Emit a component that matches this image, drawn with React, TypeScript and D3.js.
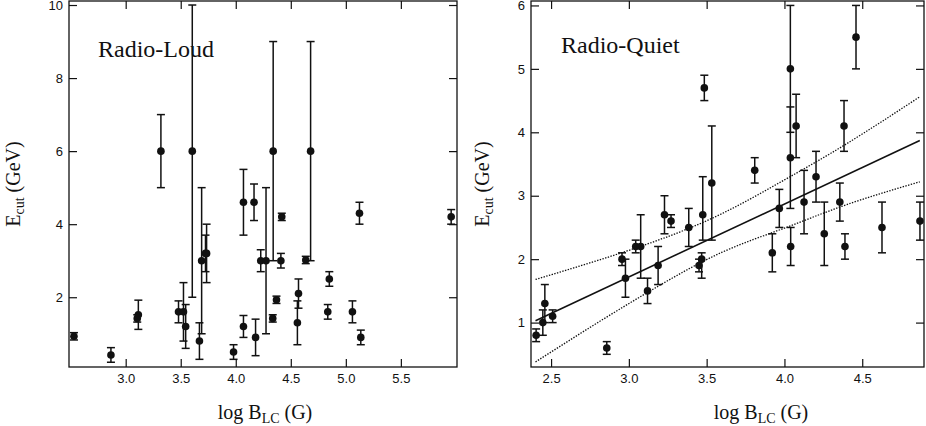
import { useEffect, useRef } from "react";
import * as d3 from "d3";

// Radio-loud sample: log B_LC (G), E_cut (GeV) and error bar ends
const loudLogB = [
  2.53, 2.866, 3.115, 3.105, 3.32, 3.48, 3.525, 3.545, 3.605, 3.67, 3.69, 3.735,
  3.725, 3.98, 4.07, 4.07, 4.166, 4.18, 4.227, 4.275, 4.34, 4.336, 4.37, 4.41,
  4.418, 4.56, 4.57, 4.636, 4.68, 4.836, 4.85, 5.06, 5.124, 5.136, 5.957,
];
const loudEcut = [
  0.93, 0.42, 1.52, 1.42, 6.0, 1.6, 1.6, 1.2, 6.0, 0.8, 3.0, 3.2,
  3.2, 0.5, 4.6, 1.2, 4.6, 0.9, 3.0, 3.0, 6.0, 1.42, 1.93, 3.0,
  4.2, 1.3, 2.1, 3.02, 6.0, 1.6, 2.5, 1.6, 4.3, 0.9, 4.2,
];
const loudLow = [
  0.83, 0.22, 1.12, 1.32, 5.0, 1.3, 0.8, 0.6, 2.0, 0.3, 1.0, 2.4,
  2.7, 0.3, 3.7, 0.9, 4.1, 0.4, 2.7, 1.0, 3.0, 1.32, 1.83, 2.8,
  4.1, 0.7, 1.7, 2.92, 3.0, 1.4, 2.3, 1.3, 4.0, 0.7, 4.0,
];
const loudHigh = [
  1.03, 0.62, 1.92, 1.52, 7.0, 1.9, 2.4, 1.8, 10.0, 1.3, 5.0, 4.0,
  3.7, 0.7, 5.5, 1.5, 5.1, 1.4, 3.3, 5.0, 9.0, 1.52, 2.03, 3.2,
  4.3, 1.9, 2.5, 3.12, 9.0, 1.8, 2.7, 1.9, 4.6, 1.1, 4.4,
];

// Radio-quiet sample
const quietLogB = [
  2.404, 2.447, 2.46, 2.51, 2.858, 2.956, 2.978, 3.044, 3.076, 3.12, 3.188, 3.229,
  3.271, 3.385, 3.451, 3.468, 3.475, 3.485, 3.533, 3.809, 3.922, 3.967, 4.038, 4.038,
  4.04, 4.075, 4.126, 4.203, 4.256, 4.356, 4.383, 4.389, 4.46, 4.627, 4.871,
];
const quietEcut = [
  0.8, 1.0, 1.3, 1.1, 0.6, 2.0, 1.7, 2.2, 2.2, 1.5, 1.9, 2.7,
  2.6, 2.5, 1.9, 2.0, 2.7, 4.7, 3.2, 3.4, 2.1, 2.8, 5.0, 3.6,
  2.2, 4.1, 2.9, 3.3, 2.4, 2.9, 4.1, 2.2, 5.5, 2.5, 2.6,
];
const quietLow = [
  0.7, 0.8, 1.0, 1.0, 0.5, 1.9, 1.4, 2.1, 1.7, 1.3, 1.6, 2.4,
  2.5, 2.2, 1.8, 1.7, 2.3, 4.5, 2.3, 3.2, 1.8, 2.5, 4.0, 2.8,
  1.9, 3.6, 2.4, 2.9, 1.9, 2.6, 3.7, 2.0, 5.0, 2.1, 2.3,
];
const quietHigh = [
  0.9, 1.2, 1.6, 1.2, 0.7, 2.1, 2.0, 2.3, 2.7, 1.7, 2.2, 3.0,
  2.7, 2.8, 2.0, 2.1, 3.3, 4.9, 4.1, 3.6, 2.4, 3.1, 6.0, 4.4,
  2.5, 4.6, 3.4, 3.7, 2.9, 3.2, 4.5, 2.4, 6.0, 2.9, 2.9,
];

// linear fit to the radio-quiet sample and its confidence band
const fitLogB = [2.4, 4.87];
const fitEcut = [1.03, 3.87];
const bandLogB = [2.4, 2.8, 3.2, 3.6, 4.0, 4.4, 4.87];
const bandUpper = [1.68, 1.98, 2.31, 2.72, 3.25, 3.82, 4.56];
const bandLower = [0.38, 1.0, 1.59, 2.11, 2.49, 2.86, 3.22];

const loudXTicks = [3.0, 3.5, 4.0, 4.5, 5.0, 5.5];
const loudYTicks = [2, 4, 6, 8, 10];
const quietXTicks = [2.5, 3.0, 3.5, 4.0, 4.5];
const quietYTicks = [1, 2, 3, 4, 5, 6];

const INK = "#111";
const SANS = "'Liberation Sans', Arial, sans-serif";
const SERIF = "'Liberation Serif', 'Times New Roman', serif";

interface PanelOpts {
  left: number;
  right: number;
  top: number;
  bottom: number;
  xDomain: [number, number];
  yDomain: [number, number];
  xTicks: number[];
  yTicks: number[];
  xs: number[];
  ys: number[];
  lo: number[];
  hi: number[];
  label: string;
  labelX: number;
  labelY: number;
  xTitleX: number;
  yTitleX: number;
}

function drawPanel(svg: d3.Selection<SVGSVGElement, unknown, null, undefined>, p: PanelOpts) {
  const x = d3.scaleLinear().domain(p.xDomain).range([p.left, p.right]);
  const y = d3.scaleLinear().domain(p.yDomain).range([p.bottom, p.top]);
  const g = svg.append("g");

  const styleAxis = (a: d3.Selection<SVGGElement, unknown, null, undefined>) => {
    a.select(".domain").remove();
    a.attr("font-family", SANS).attr("font-size", 13);
    a.selectAll("line").attr("stroke", INK).attr("stroke-width", 1.2);
    a.selectAll("text").attr("fill", INK);
  };

  // bottom and top (ticks inside)
  g.append("g")
    .attr("transform", `translate(0,${p.bottom})`)
    .call(d3.axisBottom(x).tickValues(p.xTicks).tickFormat(d3.format(".1f")).tickSizeInner(-8).tickSizeOuter(0).tickPadding(7))
    .call(styleAxis);
  g.append("g")
    .attr("transform", `translate(0,${p.top})`)
    .call(d3.axisTop(x).tickValues(p.xTicks).tickFormat(() => "").tickSizeInner(-8).tickSizeOuter(0))
    .call(styleAxis);
  // left and right
  g.append("g")
    .attr("transform", `translate(${p.left},0)`)
    .call(d3.axisLeft(y).tickValues(p.yTicks).tickFormat(d3.format("d")).tickSizeInner(-8).tickSizeOuter(0).tickPadding(6))
    .call(styleAxis);
  g.append("g")
    .attr("transform", `translate(${p.right},0)`)
    .call(d3.axisRight(y).tickValues(p.yTicks).tickFormat(() => "").tickSizeInner(-8).tickSizeOuter(0))
    .call(styleAxis);

  // frame
  g.append("rect")
    .attr("x", p.left)
    .attr("y", p.top)
    .attr("width", p.right - p.left)
    .attr("height", p.bottom - p.top)
    .attr("fill", "none")
    .attr("stroke", INK)
    .attr("stroke-width", 1.3);

  // error bars
  const idx = d3.range(p.xs.length);
  const cap = 4;
  const bars = g.append("g").attr("stroke", INK).attr("stroke-width", 1.5);
  bars
    .selectAll(".eb")
    .data(idx)
    .enter()
    .append("line")
    .attr("x1", (i) => x(p.xs[i]))
    .attr("x2", (i) => x(p.xs[i]))
    .attr("y1", (i) => y(p.lo[i]))
    .attr("y2", (i) => y(p.hi[i]));
  bars
    .selectAll(".capLo")
    .data(idx)
    .enter()
    .append("line")
    .attr("x1", (i) => x(p.xs[i]) - cap)
    .attr("x2", (i) => x(p.xs[i]) + cap)
    .attr("y1", (i) => y(p.lo[i]))
    .attr("y2", (i) => y(p.lo[i]));
  bars
    .selectAll(".capHi")
    .data(idx)
    .enter()
    .append("line")
    .attr("x1", (i) => x(p.xs[i]) - cap)
    .attr("x2", (i) => x(p.xs[i]) + cap)
    .attr("y1", (i) => y(p.hi[i]))
    .attr("y2", (i) => y(p.hi[i]));

  // markers
  g.append("g")
    .selectAll("circle")
    .data(idx)
    .enter()
    .append("circle")
    .attr("cx", (i) => x(p.xs[i]))
    .attr("cy", (i) => y(p.ys[i]))
    .attr("r", 3.8)
    .attr("fill", INK);

  // panel label
  g.append("text")
    .attr("x", p.labelX)
    .attr("y", p.labelY)
    .attr("font-family", SERIF)
    .attr("font-size", 24)
    .attr("fill", INK)
    .text(p.label);

  // x title: log B_LC (G)
  const xt = g
    .append("text")
    .attr("x", p.xTitleX)
    .attr("y", 419)
    .attr("text-anchor", "middle")
    .attr("font-family", SERIF)
    .attr("font-size", 20)
    .attr("fill", INK);
  xt.append("tspan").text("log B");
  xt.append("tspan").attr("dy", 4).attr("font-size", 14).text("LC");
  xt.append("tspan").attr("dy", -4).text(" (G)");

  // y title: E_cut (GeV)
  const cy = (p.top + p.bottom) / 2;
  const yt = g
    .append("text")
    .attr("transform", `translate(${p.yTitleX},${cy}) rotate(-90)`)
    .attr("text-anchor", "middle")
    .attr("font-family", SERIF)
    .attr("font-size", 20)
    .attr("fill", INK);
  yt.append("tspan").text("E");
  yt.append("tspan").attr("dy", 4).attr("font-size", 14).text("cut");
  yt.append("tspan").attr("dy", -4).text(" (GeV)");

  return { x, y, g };
}

const App = () => {
  const svgRef = useRef<SVGSVGElement>(null);

  useEffect(() => {
    if (!svgRef.current) return;
    const svg = d3.select(svgRef.current);
    svg.selectAll("*").remove();

    drawPanel(svg, {
      left: 69,
      right: 457,
      top: 1,
      bottom: 367,
      xDomain: [2.485, 6.01],
      yDomain: [0.09, 10.11],
      xTicks: loudXTicks,
      yTicks: loudYTicks,
      xs: loudLogB,
      ys: loudEcut,
      lo: loudLow,
      hi: loudHigh,
      label: "Radio-Loud",
      labelX: 98,
      labelY: 57,
      xTitleX: 265,
      yTitleX: 20,
    });

    const q = drawPanel(svg, {
      left: 531,
      right: 924,
      top: 1,
      bottom: 367,
      xDomain: [2.371, 4.897],
      yDomain: [0.3, 6.07],
      xTicks: quietXTicks,
      yTicks: quietYTicks,
      xs: quietLogB,
      ys: quietEcut,
      lo: quietLow,
      hi: quietHigh,
      label: "Radio-Quiet",
      labelX: 561,
      labelY: 53,
      xTitleX: 761,
      yTitleX: 489,
    });

    // regression line
    const fitLine = d3
      .line<number>()
      .x((i) => q.x(fitLogB[i]))
      .y((i) => q.y(fitEcut[i]));
    q.g.append("path")
      .attr("d", fitLine(d3.range(fitLogB.length)))
      .attr("fill", "none")
      .attr("stroke", INK)
      .attr("stroke-width", 1.6);

    // confidence band (dotted)
    [bandUpper, bandLower].forEach((band) => {
      const bandLine = d3
        .line<number>()
        .x((i) => q.x(bandLogB[i]))
        .y((i) => q.y(band[i]))
        .curve(d3.curveNatural);
      q.g.append("path")
        .attr("d", bandLine(d3.range(bandLogB.length)))
        .attr("fill", "none")
        .attr("stroke", INK)
        .attr("stroke-width", 1.3)
        .attr("stroke-dasharray", "1.4,1.4");
    });
  }, []);

  return (
    <svg
      ref={svgRef}
      width={926}
      height={426}
      style={{ position: "absolute", left: 0, top: 0, background: "#fff" }}
    />
  );
};

export default App;
